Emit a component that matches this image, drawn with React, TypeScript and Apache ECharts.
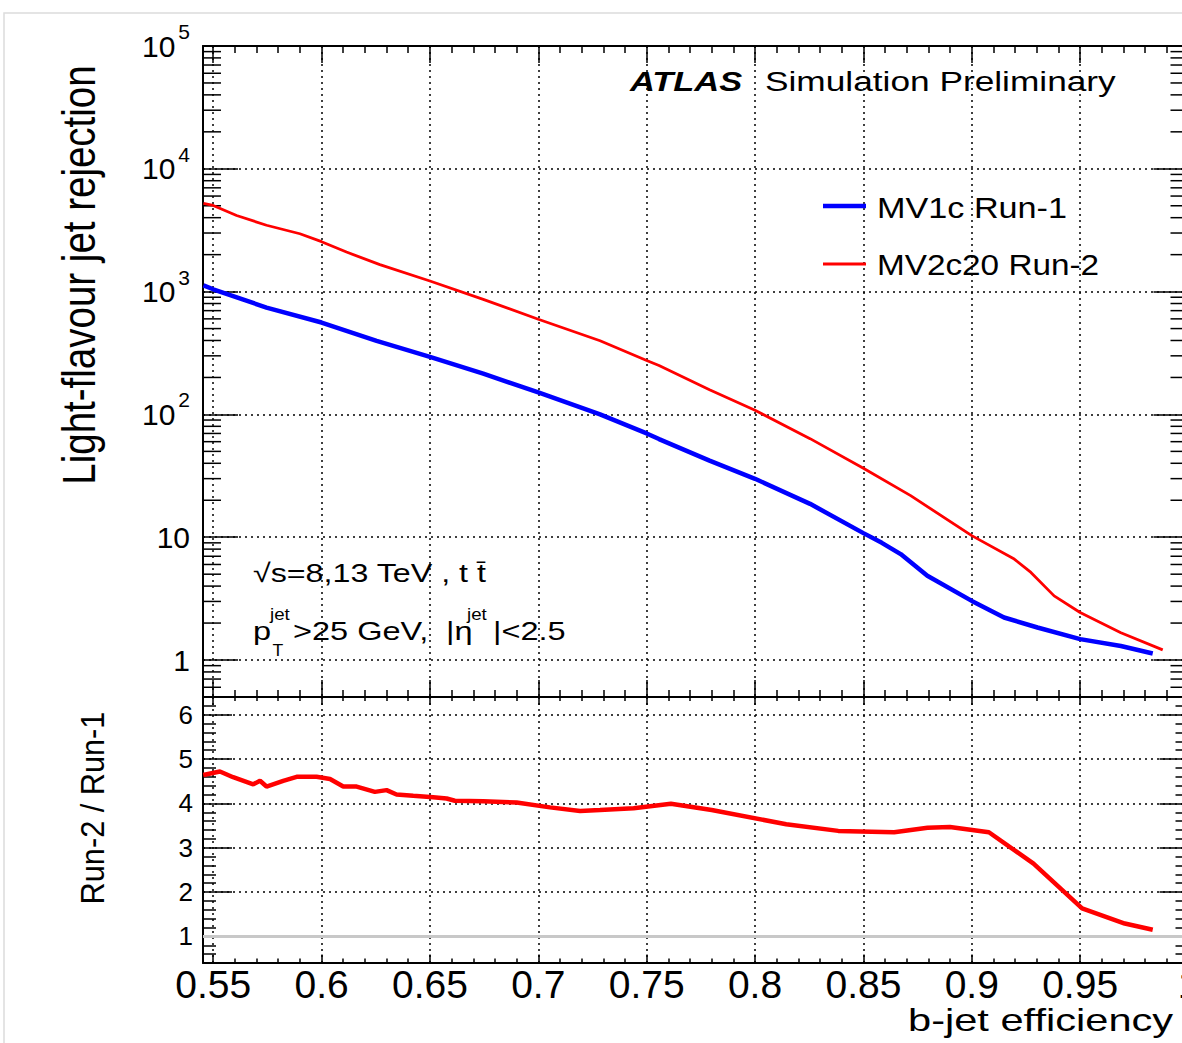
import React, { useEffect, useRef } from 'react';
import * as echarts from 'echarts';

const FONT = '"Liberation Sans", Arial, Helvetica, sans-serif';

// Axis ranges
const X_MIN = 0.5453;
const X_MAX = 1.0;
const REJ_MIN = 0.5;
const REJ_MAX = 1e5;
const RATIO_MIN = 0.4;
const RATIO_MAX = 6.4;

// MV1c Run-1 (blue)
const effMV1c = [0.5455, 0.55, 0.5746, 0.6, 0.6254, 0.65, 0.6746, 0.7, 0.7285, 0.75, 0.7557, 0.779, 0.8, 0.8254, 0.85, 0.8585, 0.8672, 0.8795, 0.9, 0.9149, 0.9303, 0.95, 0.9688, 0.9835];
const rejMV1c = [1125, 1045, 741, 560, 397, 294, 215, 151, 100, 70, 63, 42.1, 29.9, 18.7, 10.8, 9.0, 7.29, 4.85, 3.03, 2.22, 1.84, 1.48, 1.30, 1.13];

// MV2c20 Run-2 (red)
const effMV2c20 = [0.5455, 0.55, 0.5608, 0.5746, 0.59, 0.6, 0.6115, 0.6269, 0.65, 0.6746, 0.7, 0.7285, 0.75, 0.7557, 0.779, 0.8, 0.8254, 0.85, 0.8718, 0.9, 0.9196, 0.9273, 0.938, 0.95, 0.9688, 0.9881];
const rejMV2c20 = [5220, 5030, 4170, 3470, 2960, 2550, 2100, 1660, 1220, 865, 596, 398, 275, 250, 159, 108, 63.5, 36.5, 21.8, 10.3, 6.64, 5.17, 3.33, 2.44, 1.67, 1.21];

// Ratio Run-2 / Run-1
const effRatio = [0.5454, 0.5531, 0.5592, 0.5685, 0.5716, 0.5746, 0.5823, 0.5885, 0.5977, 0.6039, 0.61, 0.6162, 0.6246, 0.63, 0.6346, 0.6423, 0.6515, 0.6577, 0.6615, 0.6746, 0.69, 0.7054, 0.7193, 0.7285, 0.744, 0.7612, 0.78, 0.8144, 0.8384, 0.8642, 0.8796, 0.8899, 0.9079, 0.9285, 0.9509, 0.9706, 0.9835];
const ratioValues = [4.64, 4.72, 4.59, 4.43, 4.51, 4.38, 4.51, 4.60, 4.60, 4.55, 4.38, 4.38, 4.26, 4.30, 4.20, 4.17, 4.14, 4.11, 4.06, 4.05, 4.02, 3.91, 3.83, 3.85, 3.89, 3.99, 3.85, 3.53, 3.38, 3.35, 3.45, 3.47, 3.35, 2.64, 1.63, 1.29, 1.15];

const seriesNames = ['MV1c Run-1', 'MV2c20 Run-2'];
const yTitleTop = 'Light-flavour jet rejection';
const yTitleBottom = 'Run-2 / Run-1';
const xTitle = 'b-jet efficiency';

// log-axis minor tick values (2..9 x 10^k)
const logMinorTicks: number[] = [];
for (let e = -1; e <= 4; e++) {
  for (let m = 2; m <= 9; m++) {
    const v = m * Math.pow(10, e);
    if (v >= REJ_MIN && v < REJ_MAX) logMinorTicks.push(v);
  }
}

const zip = (a: number[], b: number[]) => a.map((v, i) => [v, b[i]]);

const txt = (text: string, x: number, baseline: number, size: number, o: any = {}) => ({
  type: 'text',
  x,
  y: baseline - 0.35 * size,
  scaleX: o.sx ?? 1,
  scaleY: o.sy ?? 1,
  rotation: o.rot ?? 0,
  silent: true,
  z: 20,
  style: {
    text,
    fontSize: size,
    fontFamily: FONT,
    fontWeight: o.bold ? 'bold' : 'normal',
    fontStyle: o.italic ? 'italic' : 'normal',
    fill: '#000',
    align: o.align ?? 'left',
    verticalAlign: 'middle',
  },
});

const dotted = { show: true, lineStyle: { color: '#000', width: 1.5, type: [2, 4] } };
const blackLine = { show: true, onZero: false, lineStyle: { color: '#000', width: 2 } };
const tick = (len: number) => ({ show: true, inside: true, length: len, lineStyle: { color: '#000', width: 1.5 } });
const minor = (len: number, n: number) => ({ show: true, splitNumber: n, length: len, lineStyle: { color: '#000', width: 1.5 } });

export default function App() {
  const ref = useRef<HTMLDivElement>(null);
  useEffect(() => {
    if (!ref.current) return;
    const chart = echarts.init(ref.current, undefined, { renderer: 'svg' });
    const xCommon = {
      type: 'value',
      min: X_MIN,
      max: X_MAX,
      splitNumber: 9,
      minInterval: 0.05,
      maxInterval: 0.05,
      axisLine: blackLine,
    };
    const option: any = {
      animation: false,
      backgroundColor: '#fff',
      grid: [
        { left: 203, top: 46, width: 985.5, height: 651, outerBoundsMode: 'none' },
        { left: 203, top: 697, width: 985.5, height: 266, outerBoundsMode: 'none' },
      ],
      xAxis: [
        { ...xCommon, gridIndex: 0, position: 'bottom', axisTick: tick(17), minorTick: minor(7, 5), axisLabel: { show: false }, splitLine: dotted },
        { ...xCommon, gridIndex: 0, position: 'top', axisTick: tick(17), minorTick: minor(7, 5), axisLabel: { show: false }, splitLine: { show: false } },
        {
          ...xCommon, gridIndex: 1, position: 'bottom', axisTick: tick(8.5), minorTick: minor(4.5, 5),
          axisLabel: { show: true, showMinLabel: false, showMaxLabel: true, fontSize: 39, fontFamily: FONT, color: '#000', margin: 2 },
          splitLine: dotted,
        },
        { ...xCommon, gridIndex: 1, position: 'top', axisTick: tick(8), minorTick: minor(4, 5), axisLabel: { show: false }, splitLine: { show: false } },
      ],
      yAxis: [
        {
          type: 'log', logBase: 10, gridIndex: 0, position: 'left', min: REJ_MIN, max: REJ_MAX,
          axisLine: blackLine, axisTick: tick(35), minorTick: { show: false }, splitLine: dotted,
          axisLabel: {
            show: true, showMinLabel: false, showMaxLabel: true, margin: 13, color: '#000',
            formatter: (v: number) => {
              const e = Math.round(Math.log10(v));
              if (e <= 0) return '{b|1}';
              if (e === 1) return '{b|10}';
              return '{b|10}{s|' + e + '}';
            },
            rich: {
              b: { fontSize: 30, fontFamily: FONT, color: '#000', lineHeight: 50, verticalAlign: 'middle' },
              s: { fontSize: 21, fontFamily: FONT, color: '#000', lineHeight: 21, verticalAlign: 'top', padding: [0, 0, 0, 3] },
            },
          },
        },
        {
          type: 'log', logBase: 10, gridIndex: 0, position: 'right', min: REJ_MIN, max: REJ_MAX,
          axisLine: blackLine, axisTick: tick(35), minorTick: { show: false }, splitLine: { show: false }, axisLabel: { show: false },
        },
        {
          type: 'value', gridIndex: 1, position: 'left', min: RATIO_MIN, max: RATIO_MAX, splitNumber: 6, minInterval: 1, maxInterval: 1,
          axisLine: blackLine, axisTick: tick(29), minorTick: minor(13, 5), splitLine: dotted,
          axisLabel: { show: true, showMinLabel: false, showMaxLabel: false, fontSize: 26, fontFamily: FONT, color: '#000', margin: 10 },
        },
        {
          type: 'value', gridIndex: 1, position: 'right', min: RATIO_MIN, max: RATIO_MAX, splitNumber: 6, minInterval: 1, maxInterval: 1,
          axisLine: blackLine, axisTick: tick(29), minorTick: minor(13, 5), splitLine: { show: false }, axisLabel: { show: false },
        },
      ],
      series: [
        {
          type: 'custom', name: 'minorLogTicks', xAxisIndex: 0, yAxisIndex: 0, silent: true, z: 3,
          data: logMinorTicks.map((v) => [X_MIN, v]),
          renderItem: (params: any, api: any) => {
            const cs = params.coordSys;
            const y = api.coord([api.value(0), api.value(1)])[1];
            const st = { stroke: '#000', lineWidth: 1.5 };
            return {
              type: 'group',
              children: [
                { type: 'line', shape: { x1: cs.x, y1: y, x2: cs.x + 18, y2: y }, style: st },
                { type: 'line', shape: { x1: cs.x + cs.width - 18, y1: y, x2: cs.x + cs.width, y2: y }, style: st },
              ],
            };
          },
        },
        {
          type: 'line', name: seriesNames[0], xAxisIndex: 0, yAxisIndex: 0, data: zip(effMV1c, rejMV1c),
          showSymbol: false, symbol: 'none', silent: true, z: 5,
          lineStyle: { color: '#0000ff', width: 4.5 }, itemStyle: { color: '#0000ff' },
        },
        {
          type: 'line', name: seriesNames[1], xAxisIndex: 0, yAxisIndex: 0, data: zip(effMV2c20, rejMV2c20),
          showSymbol: false, symbol: 'none', silent: true, z: 5,
          lineStyle: { color: '#ff0000', width: 2.8 }, itemStyle: { color: '#ff0000' },
        },
        {
          type: 'line', name: yTitleBottom, xAxisIndex: 2, yAxisIndex: 2, data: zip(effRatio, ratioValues),
          showSymbol: false, symbol: 'none', silent: true, z: 5,
          lineStyle: { color: '#ff0000', width: 4.5 }, itemStyle: { color: '#ff0000' },
          markLine: {
            silent: true, symbol: 'none', label: { show: false },
            lineStyle: { color: '#c8c8c8', width: 3, type: 'solid' },
            data: [{ yAxis: 1 }],
          },
        },
      ],
      graphic: [
        { type: 'rect', shape: { x: 4, y: 13, width: 1400, height: 1200 }, style: { fill: 'none', stroke: '#dcdcdc', lineWidth: 1.5 }, silent: true, z: 0 },
        txt(yTitleTop, 79.5, 275 + 0.35 * 38.5, 38.5, { rot: Math.PI / 2, sy: 1.2, align: 'center' }),
        txt(yTitleBottom, 92, 808 + 0.35 * 30.7, 30.7, { rot: Math.PI / 2, sy: 1.1, align: 'center' }),
        txt(xTitle, 908, 1031, 32, { sx: 1.3 }),
        txt('ATLAS', 630, 91, 28, { sx: 1.23, bold: true, italic: true }),
        txt('Simulation Preliminary', 765, 91, 28, { sx: 1.26 }),
        { type: 'line', shape: { x1: 823, y1: 206, x2: 866, y2: 206 }, style: { stroke: '#0000ff', lineWidth: 4.5 }, silent: true, z: 20 },
        { type: 'line', shape: { x1: 823, y1: 264, x2: 866, y2: 264 }, style: { stroke: '#ff0000', lineWidth: 2.8 }, silent: true, z: 20 },
        txt(seriesNames[0], 877, 218, 30, { sx: 1.14 }),
        txt(seriesNames[1], 877, 275, 30, { sx: 1.11 }),
        txt('\u221As=8,13 TeV , t t\u0304', 253, 582, 26, { sx: 1.24 }),
        txt('p', 253, 640, 26, { sx: 1.25 }),
        txt('jet', 270, 620, 17, { sx: 1.1 }),
        txt('T', 272.5, 656.5, 16, { sx: 1.1 }),
        txt('>25 GeV,', 293, 640, 26, { sx: 1.25 }),
        txt('|\u03B7', 446, 640, 26, { sx: 1.25 }),
        txt('jet', 467, 620, 17, { sx: 1.1 }),
        txt('|<2.5', 493, 640, 26, { sx: 1.25 }),
      ],
    };
    chart.setOption(option);
    return () => chart.dispose();
  }, []);
  return (
    <div
      ref={ref}
      style={{ position: 'fixed', left: 0, top: 0, width: 1182, height: 1043, background: '#fff' }}
    />
  );
}
